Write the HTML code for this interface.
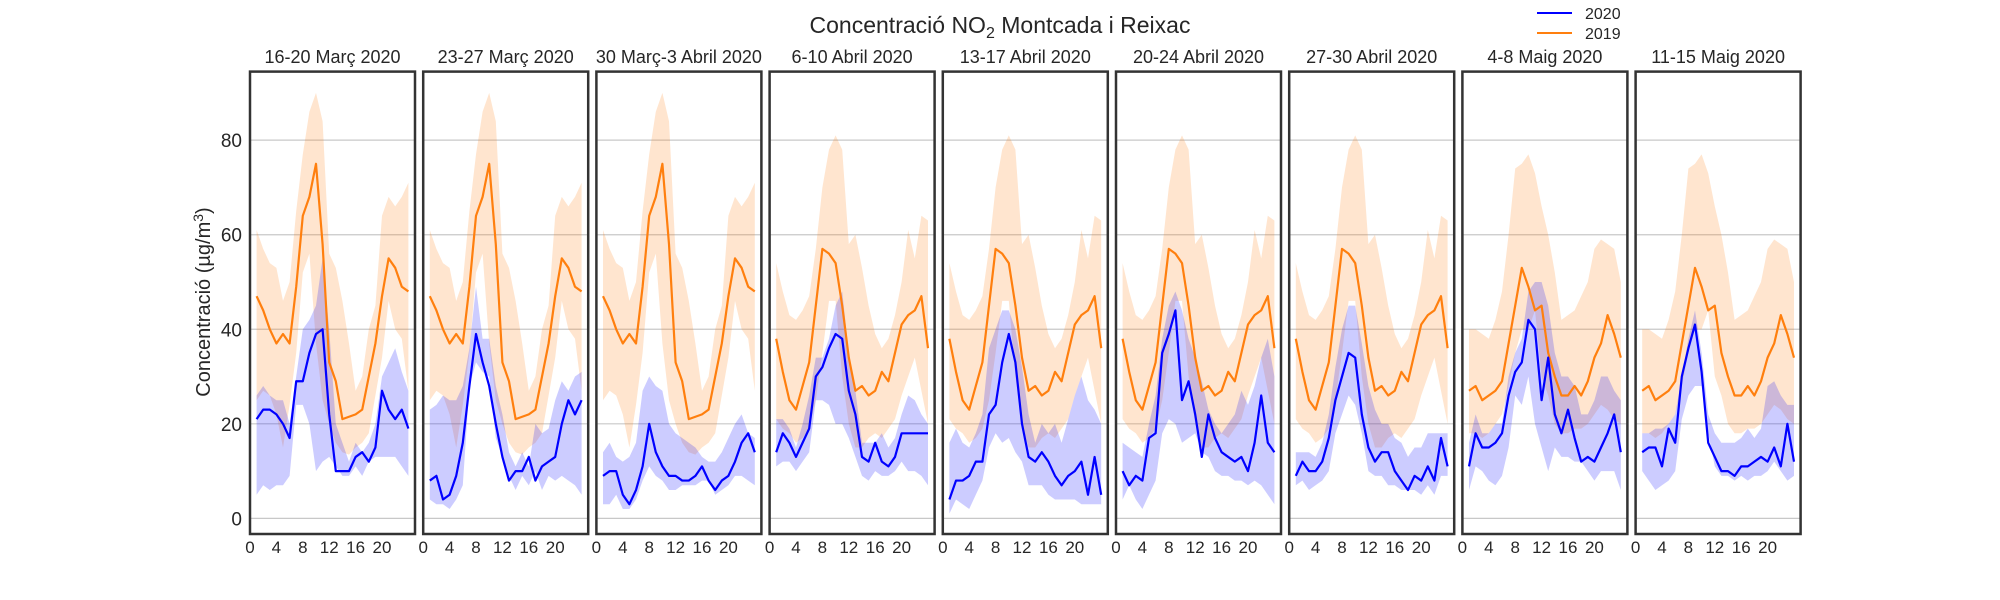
<!DOCTYPE html>
<html><head><meta charset="utf-8">
<style>
html,body{margin:0;padding:0;background:#fff;}
svg{display:block;}
</style></head>
<body>
<svg id="chart" width="2000" height="600" xmlns="http://www.w3.org/2000/svg">
<text x="1000" y="33" text-anchor="middle" font-family="Liberation Sans, sans-serif" font-size="23" fill="#262626">Concentració NO<tspan font-size="16" dy="5">2</tspan><tspan dy="-5"> Montcada i Reixac</tspan></text>
<text transform="translate(210,302) rotate(-90)" text-anchor="middle" font-family="Liberation Sans, sans-serif" font-size="20" fill="#262626">Concentració (µg/m<tspan font-size="14" dy="-7">3</tspan><tspan dy="7">)</tspan></text>
<g>
<line x1="1537" y1="13" x2="1572" y2="13" stroke="#0000ff" stroke-width="2"/>
<text x="1585" y="19" font-family="Liberation Sans, sans-serif" font-size="16" fill="#262626">2020</text>
<line x1="1537" y1="33" x2="1572" y2="33" stroke="#ff7f0e" stroke-width="2"/>
<text x="1585" y="39" font-family="Liberation Sans, sans-serif" font-size="16" fill="#262626">2019</text>
</g>
</svg>
<script>
const titles = ["16-20 Març 2020","23-27 Març 2020","30 Març-3 Abril 2020","6-10 Abril 2020","13-17 Abril 2020","20-24 Abril 2020","27-30 Abril 2020","4-8 Maig 2020","11-15 Maig 2020"];
const hours = [1,2,3,4,5,6,7,8,9,10,11,12,13,14,15,16,17,18,19,20,21,22,23,24];
const yTicks = [0,20,40,60,80];
const xTicks = [0,4,8,12,16,20];

const orangeA = [47,44,40,37,39,37,49,64,68,75,58,33,29,21,21.5,22,23,30,37,47,55,53,49,48];
const orangeAHi = [61,57,54,53,46,50,65,77,86,90,84,56,53,46,37,27,30,40,45,64,68,66,68,71];
const orangeALo = [25,27,26,22,15,24,35,52,56,37,25,20,16,14,13.5,15,16,18,26,34,46,40,38,27];
const orangeB = [38,31,25,23,28,33,45,57,56,54,45,34,27,28,26,27,31,29,35,41,43,44,47,36];
const orangeBHi = [54,48,43,42,44,47,57,70,78,81,78,58,60,53,45,39,36,38,43,50,61,55,64,63];
const orangeBLo = [21,19,18,16,17,19,25,35,46,46,30,20,15,15,17,18,17,19,21,26,30,34,27,20];
const orangeC = [27,28,25,26,27,29,37,45,53,49,44,45,35,30,26,26,28,26,29,34,37,43,39,34];
const orangeCHi = [40,40,39,38,42,48,60,74,75,77,73,66,60,52,42,43,44,47,50,57,59,58,57,50];
const orangeCLo = [18,18,17,18,20,22,28,35,40,40,44,30,26,20,18,18,19,19,20,22,24,23,21,20];

const blue = [
 [21,23,23,22,20,17,29,29,35,39,40,22,10,10,10,13,14,12,15,27,23,21,23,19],
 [8,9,4,5,9,16,28,39,33,28,20,13,8,10,10,13,8,11,12,13,20,25,22,25],
 [9,10,10,5,3,6,11,20,14,11,9,9,8,8,9,11,8,6,8,9,12,16,18,14],
 [14,18,16,13,16,19,30,32,36,39,38,27,22,13,12,16,12,11,13,18,18,18,18,18],
 [4,8,8,9,12,12,22,24,33,39,33,20,13,12,14,12,9,7,9,10,12,5,13,5],
 [10,7,9,8,17,18,35,39,44,25,29,22,13,22,17,14,13,12,13,10,16,26,16,14],
 [9,12,10,10,12,17,25,30,35,34,22,15,12,14,14,10,8,6,9,8,11,8,17,11],
 [11,18,15,15,16,18,26,31,33,42,40,25,34,22,18,23,17,12,13,12,15,18,22,14],
 [14,15,15,11,19,16,30,36,41,31,16,13,10,10,9,11,11,12,13,12,15,11,20,12]
];
const blueHi = [
 [26,28,26,25,25,20,30,40,42,45,55,40,20,16,12,16,14,16,20,30,33,36,31,27],
 [23,24,26,25,25,28,36,49,38,38,28,22,14,11,14,11,20,18,19,25,29,27,30,31],
 [14,16,13,12,13,16,27,30,28,27,20,18,17,16,15,13,12,12,14,17,20,22,18,17],
 [21,21,19,15,20,26,34,34,38,45,48,35,27,16,16,16,18,15,17,22,26,25,22,20],
 [16,19,16,15,18,22,36,40,44,44,40,32,22,16,20,18,20,16,21,26,30,25,23,20],
 [16,15,14,13,20,26,38,45,48,44,38,34,29,23,20,18,20,22,27,24,28,34,38,30],
 [14,14,14,13,16,22,32,40,45,45,37,28,23,20,20,17,16,13,15,15,18,18,18,18],
 [16,22,18,18,20,20,30,35,38,48,50,50,45,35,30,30,28,22,22,25,30,30,27,25],
 [18,18,19,19,20,22,30,38,44,35,22,18,16,16,16,17,19,17,19,28,29,26,24,24]
];
const blueLo = [
 [5,7,6,7,7,9,24,24,20,10,12,13,11,9,9,11,9,12,13,13,13,13,11,9],
 [4,3,3,2,4,7,28,33,31,30,17,13,9,6,9,7,10,6,9,8,9,8,7,5],
 [3,3,5,2,2,4,8,11,9,8,6,6,7,7,7,8,8,5,6,7,9,9,8,7],
 [11,12,12,10,12,14,25,25,24,20,20,17,13,9,8,10,9,9,10,12,10,10,9,7],
 [1,4,3,2,5,8,15,18,16,17,14,12,7,7,7,5,4,4,4,4,3,3,3,3],
 [4,7,4,2,5,8,18,21,20,16,17,18,14,13,10,9,9,8,8,7,8,7,5,3],
 [7,8,6,7,8,10,18,22,26,24,18,10,9,9,7,7,6,6,6,5,7,5,9,9],
 [6,11,10,8,7,9,15,26,24,30,20,15,10,15,13,13,12,12,10,8,10,10,10,6],
 [10,8,6,7,8,10,21,26,28,28,18,11,9,9,8,9,8,9,9,10,12,10,8,9]
];
const orangeMap = [0,0,0,1,1,1,1,2,2];
const oMean=[orangeA,orangeB,orangeC], oHi=[orangeAHi,orangeBHi,orangeCHi], oLo=[orangeALo,orangeBLo,orangeCLo];

const NS="http://www.w3.org/2000/svg";
const svg=document.getElementById('chart');
const top0=71.6, bot0=534, yMin=-3.3, yMax=94.5, pW=165, xMax=25;
function yS(v){return bot0-(v-yMin)/(yMax-yMin)*(bot0-top0);}
function mk(tag,attrs){const e=document.createElementNS(NS,tag);for(const k in attrs)e.setAttribute(k,attrs[k]);return e;}

titles.forEach((t,i)=>{
  const left=250+i*173.2;
  const xS=h=>left+h/xMax*pW;
  const g=mk('g',{});
  
  
  svg.appendChild(g);
  yTicks.forEach(v=>{
    const l=mk('line',{x1:left,x2:left+pW,y1:yS(v),y2:yS(v),stroke:'#c8c8c8','stroke-width':1.2});
    
    
    g.appendChild(l);
    if(i===0){
      const tx=mk('text',{x:left-8,y:yS(v)+7,'text-anchor':'end','font-family':'Liberation Sans, sans-serif','font-size':19,fill:'#262626'});
      tx.textContent=v;
      
      
      svg.appendChild(tx);
    }
  });
  const band=(hi,lo,col,name)=>{
    let d='M'+hours.map((h,k)=>xS(h)+','+yS(hi[k])).join('L');
    d+='L'+hours.slice().reverse().map((h,k)=>xS(h)+','+yS(lo[23-k])).join('L')+'Z';
    const p=mk('path',{d:d,fill:col,'fill-opacity':0.2,stroke:'none'});
    
    
    g.appendChild(p);
  };
  const line=(vals,col,name)=>{
    const p=mk('polyline',{points:hours.map((h,k)=>xS(h)+','+yS(vals[k])).join(' '),fill:'none',stroke:col,'stroke-width':2.2,'stroke-linejoin':'round'});
    
    
    g.appendChild(p);
  };
  const oi=orangeMap[i];
  band(oHi[oi],oLo[oi],'#ff7f0e','band-2019');
  band(blueHi[i],blueLo[i],'#0000ff','band-2020');
  line(oMean[oi],'#ff7f0e','line-2019');
  line(blue[i],'#0000ff','line-2020');
  const fr=mk('rect',{x:left,y:top0,width:pW,height:bot0-top0,fill:'none',stroke:'#333','stroke-width':2.5});
  
  
  g.appendChild(fr);
  const tt=mk('text',{x:left+pW/2,y:63,'text-anchor':'middle','font-family':'Liberation Sans, sans-serif','font-size':18,fill:'#262626'});
  tt.textContent=t;
  
  
  g.appendChild(tt);
  xTicks.forEach(h=>{
    const tx=mk('text',{x:xS(h),y:553,'text-anchor':'middle','font-family':'Liberation Sans, sans-serif','font-size':17,fill:'#262626'});
    tx.textContent=h;
    
    
    g.appendChild(tx);
  });
});
</script>
</body></html>
